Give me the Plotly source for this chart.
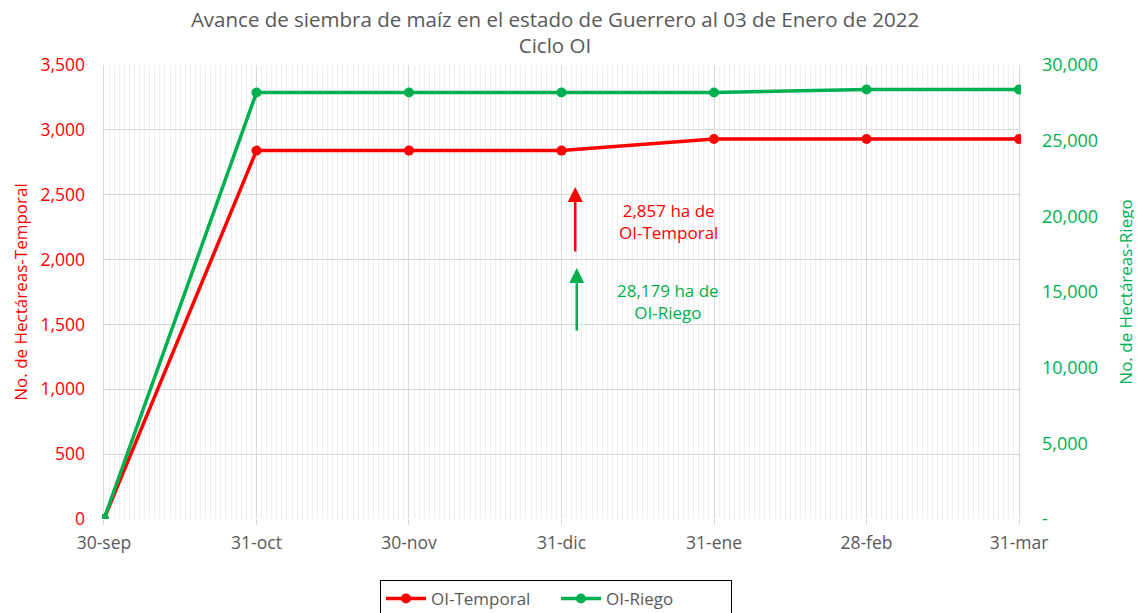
import plotly.graph_objects as go

categories = ["30-sep", "31-oct", "30-nov", "31-dic", "31-ene", "28-feb", "31-mar"]
temporal = [0, 2840, 2840, 2840, 2930, 2930, 2930]
riego = [0, 28180, 28180, 28180, 28180, 28380, 28380]
left_ticks = [0, 500, 1000, 1500, 2000, 2500, 3000, 3500]
right_ticks = [0, 5000, 10000, 15000, 20000, 25000, 30000]
right_ticktext = ["-", "5,000", "10,000", "15,000", "20,000", "25,000", "30,000"]

RED = "#FF0000"
GREEN = "#00B050"
FONT = "Open Sans"
xpos = list(range(len(categories)))

W, H = 1134, 605

fig = go.Figure()
fig.add_trace(go.Scatter(x=xpos, y=temporal, name="OI-Temporal", mode="lines+markers",
                         line=dict(color=RED, width=3.5), marker=dict(size=10, color=RED), yaxis="y"))
fig.add_trace(go.Scatter(x=xpos, y=riego, name="OI-Riego", mode="lines+markers",
                         line=dict(color=GREEN, width=3.5), marker=dict(size=10, color=GREEN), yaxis="y2"))

fig.update_layout(
    width=W, height=H,
    paper_bgcolor="white", plot_bgcolor="white",
    margin=dict(l=94, r=121, t=57, b=94, autoexpand=False),
    font=dict(family=FONT, color="#595959", size=17),
    title=dict(text="Avance de siembra de maíz en el estado de Guerrero al 03 de Enero de 2022<br>Ciclo OI",
               x=547 / W, xanchor="center", xref="container", y=1 - 18.5 / H, yanchor="middle", yref="container",
               font=dict(family=FONT, size=20.5, color="#595959")),
    xaxis=dict(range=[-0.013, 6.013], tickvals=xpos, ticktext=categories, showgrid=True,
               gridcolor="#d9d9d9", gridwidth=1, zeroline=False, showline=False, automargin=False,
               tickfont=dict(size=17.5, color="#595959"), ticks="outside", ticklen=5, tickcolor="#d9d9d9",
               ticklabelstandoff=3,
               minor=dict(dtick=1 / 30, tick0=0, showgrid=True, gridcolor="#efefef", gridwidth=1)),
    yaxis=dict(range=[0, 3500], tickvals=left_ticks, tickformat=",d", showgrid=True, automargin=False,
               gridcolor="#d9d9d9", zeroline=False, tickfont=dict(size=17.5, color=RED),
               ticklabelstandoff=16,
               title=dict(text="No. de Hectáreas-Temporal", font=dict(size=17, color=RED), standoff=8)),
    yaxis2=dict(range=[0, 30000], tickvals=right_ticks, ticktext=right_ticktext, overlaying="y",
                side="right", showgrid=False, zeroline=False, automargin=False,
                tickfont=dict(size=18, color=GREEN), ticklabelstandoff=20,
                title=dict(text="No. de Hectáreas-Riego", font=dict(size=17, color=GREEN), standoff=22)),
    legend=dict(orientation="h", x=0.494, xanchor="center", xref="paper",
                y=(H - 572) / H, yanchor="top", yref="container",
                bordercolor="#000000", borderwidth=1, font=dict(size=17, color="#595959"),
                itemwidth=40, entrywidth=120, entrywidthmode="pixels"),
    showlegend=True,
)

# arrows
fig.add_annotation(x=3.09, y=2560, ax=3.09, ay=2051, xref="x", yref="y", axref="x", ayref="y",
                   text="", showarrow=True, arrowhead=2, arrowsize=1.2, arrowwidth=2.5, arrowcolor=RED)
fig.add_annotation(x=3.10, y=1935, ax=3.10, ay=1442, xref="x", yref="y", axref="x", ayref="y",
                   text="", showarrow=True, arrowhead=2, arrowsize=1.2, arrowwidth=2.5, arrowcolor=GREEN)
fig.add_annotation(x=3.70, y=2290, xref="x", yref="y", text="2,857 ha de<br>OI-Temporal", showarrow=False,
                   font=dict(size=17, color=RED))
fig.add_annotation(x=3.70, y=1673, xref="x", yref="y", text="28,179 ha de<br>OI-Riego", showarrow=False,
                   font=dict(size=17, color=GREEN))

fig.write_html("out.html")
